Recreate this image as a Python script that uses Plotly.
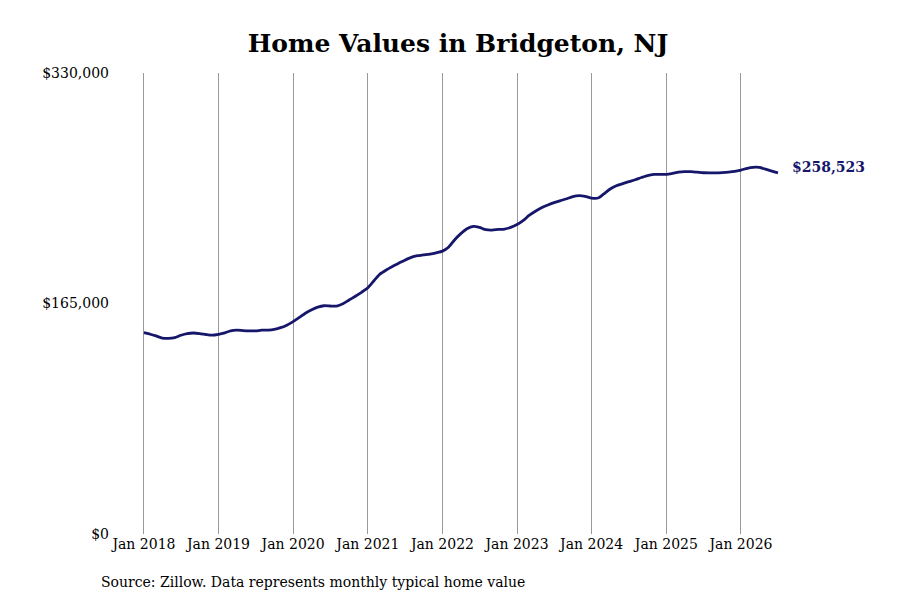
#!/usr/bin/env python3
"""Home values in Bridgeton, NJ (Zillow typical home value, monthly)."""

import pandas as pd
import plotly.graph_objects as go

# Monthly typical home value, Jan 2018 .. Jul 2026
months = pd.date_range("2018-01-01", "2026-07-01", freq="MS")

values = [
    # 2018
    144100, 143000, 141800, 140300, 140000, 140600, 142300, 143500, 143900, 143500, 142800, 142300,
    # 2019
    142900, 144000, 145400, 145900, 145600, 145400, 145400, 145900, 146000, 146500, 147700, 149500,
    # 2020
    152000, 155000, 158000, 160500, 162400, 163400, 163200, 163200, 164800, 167500, 170200, 173000,
    # 2021
    176300, 181500, 186000, 189000, 191500, 193800, 196000, 198000, 199200, 199800, 200400, 201300,
    # 2022
    202500, 205500, 210500, 215000, 218500, 220200, 219500, 217800, 217500, 218000, 218300, 219500,
    # 2023
    221500, 224500, 228000, 231000, 233500, 235500, 237200, 238600, 240000, 241500, 242200, 241700,
    # 2024
    240500, 240500, 243500, 247000, 249300, 250800, 252200, 253600, 255200, 256600, 257400, 257500,
    # 2025
    257500, 258200, 259000, 259400, 259400, 259000, 258600, 258500, 258500, 258700, 259000, 259500,
    # 2026
    260500, 261800, 262500, 262400, 261200, 259800, 258523,
]

y_ticks = [0, 165000, 330000]
y_tick_labels = ["$0", "$165,000", "$330,000"]
x_ticks = pd.date_range("2018-01-01", "2026-01-01", freq="YS")
x_tick_labels = [f"Jan {d.year}" for d in x_ticks]

line_color = "#16166b"
font_family = "DejaVu Serif"

# page puts the figure 8px in from the top-left corner
ml, mr, mt, mb = 102, 118, 65, 74
plot_w = 900 - ml - mr
plot_h = 600 - mt - mb

fig = go.Figure()

fig.add_trace(go.Scatter(
    x=months, y=values,
    mode="lines",
    line=dict(color=line_color, width=2.8, shape="spline", smoothing=0.6),
    hoverinfo="x+y",
    showlegend=False,
))

# Last value label
fig.add_annotation(
    x=months[-1], y=values[-1],
    text=f"<b>${values[-1]:,}</b>",
    showarrow=False,
    xanchor="left", yanchor="middle",
    xshift=12, yshift=6,
    font=dict(family=font_family, size=14, color=line_color),
)

# Source note
fig.add_annotation(
    x=(91 - ml) / plot_w, y=(600 - mb - 574) / plot_h,
    xref="paper", yref="paper",
    xanchor="left", yanchor="middle",
    text="Source: Zillow. Data represents monthly typical home value",
    showarrow=False,
    font=dict(family=font_family, size=14, color="black"),
)

fig.update_layout(
    width=900, height=600,
    margin=dict(l=ml, r=mr, t=mt, b=mb),
    paper_bgcolor="white",
    plot_bgcolor="white",
    font=dict(family=font_family, size=14, color="black"),
    title=dict(
        text="<b>Home Values in Bridgeton, NJ</b>",
        x=0.5, xanchor="center",
        y=1 - 35 / 600, yanchor="middle",
        font=dict(family=font_family, size=25, color="black"),
    ),
)

fig.update_xaxes(
    range=["2017-07-19", "2026-08-29"],
    tickvals=x_ticks, ticktext=x_tick_labels,
    showgrid=True, gridcolor="#999999", gridwidth=1,
    zeroline=False, showline=False,
    ticks="", tickfont=dict(size=14),
)

fig.update_yaxes(
    range=[0, 330000],
    tickvals=y_ticks, ticktext=y_tick_labels,
    showgrid=False, zeroline=False, showline=False,
    ticks="", tickfont=dict(size=14),
)

fig.write_html("out.html")
